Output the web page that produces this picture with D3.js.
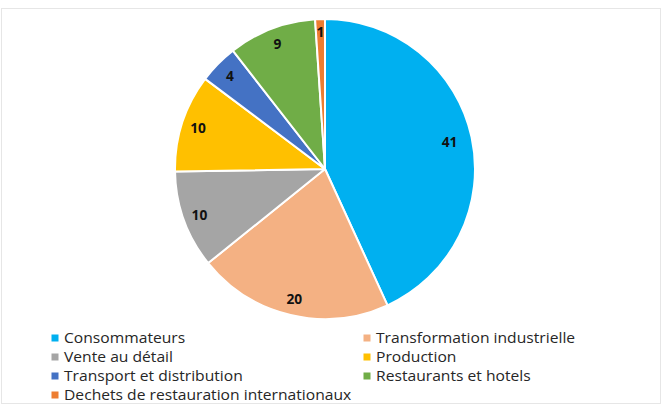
<!DOCTYPE html>
<html><head><meta charset="utf-8">
<script src="https://cdn.jsdelivr.net/npm/d3@7"></script>
<style>body{margin:0;background:#fff}svg{display:block}</style>
</head><body>
<svg id="c" width="664" height="410"></svg>
<script>
const categories = ["Consommateurs","Transformation industrielle","Vente au détail","Production","Transport et distribution","Restaurants et hotels","Dechets de restauration internationaux"];
const values = [41,20,10,10,4,9,1];
const colors = ["#00B0F0","#F4B183","#A5A5A5","#FFC000","#4472C4","#70AD47","#ED7D31"];

const svg = d3.select("#c");
svg.append("rect").attr("x",1.5).attr("y",8.5).attr("width",659).attr("height",395)
  .attr("fill","#fff").attr("stroke","#e6e6e6");

const cx=325, cy=169, r=150;
const data = categories.map((c,i)=>({name:c,value:values[i],color:colors[i]}));
const pie = d3.pie().value(d=>d.value).sort(null);
const arc = d3.arc().innerRadius(0).outerRadius(r);
const g = svg.append("g").attr("transform",`translate(${cx},${cy})`);
const arcs = pie(data);
g.selectAll("path").data(arcs).join("path").attr("d",arc)
  .attr("fill",d=>d.data.color).attr("stroke","#fff").attr("stroke-width",2).attr("stroke-linejoin","round");
g.selectAll("text").data(arcs).join("text")
  .attr("transform",d=>{
    const lr = d.data.value===1 ? r*0.915 : (d.data.value>30 ? r*0.85 : r*0.89);
    const p=d3.arc().innerRadius(lr).outerRadius(lr).centroid(d);
    return `translate(${p}) scale(0.95,1)`;})
  .attr("text-anchor","middle").attr("dy","0.36em")
  .style("font-family","'Open Sans', sans-serif").style("font-weight","bold").style("font-size","14.5px")
  .attr("fill","#111").text(d=>d.data.value);

const leg = svg.append("g");
const cols=[55,367], rowY=[338,357,376,395];
const texts=[];
data.forEach((d,i)=>{
  const x=cols[i%2], y=rowY[Math.floor(i/2)];
  leg.append("rect").attr("x",x-3.5).attr("y",y-3.5).attr("width",7).attr("height",7).attr("fill",d.color);
  const t=leg.append("text").attr("y",y).attr("dy","0.36em")
    .style("font-family","'Open Sans', sans-serif").style("font-size","14.2px").attr("fill","#262626").text(d.name);
  texts.push({t,x:x+9});
});
const ref = texts[1].t.node().getComputedTextLength();
const k = 199/ref;
texts.forEach(o=>o.t.attr("transform",`translate(${o.x},0) scale(${k},1)`));
</script>
</body></html>
